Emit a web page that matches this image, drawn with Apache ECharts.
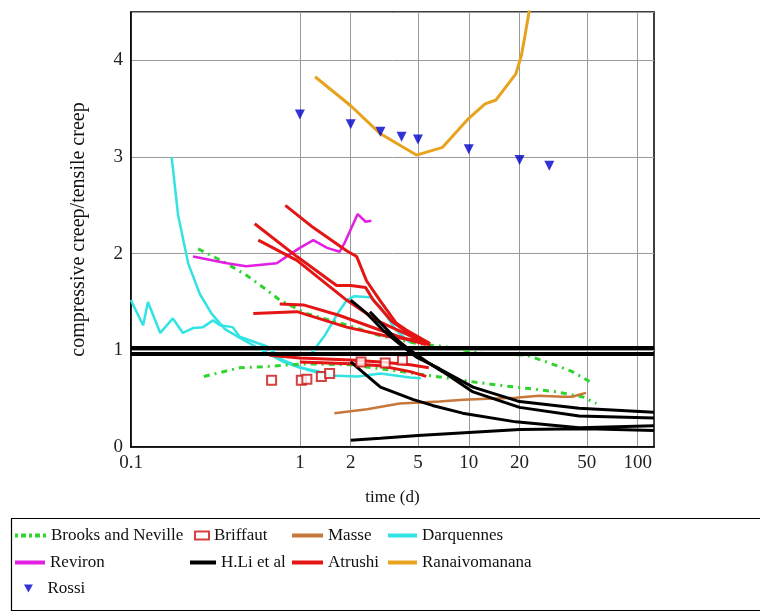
<!DOCTYPE html>
<html>
<head>
<meta charset="utf-8">
<script src="https://cdn.jsdelivr.net/npm/echarts@6/dist/echarts.min.js"></script>
<style>
  html, body { margin: 0; padding: 0; background: #fff; }
  #chart { width: 760px; height: 614px; }
</style>
</head>
<body>
<div id="chart"></div>
<script>
// Axis ticks
const xTicks = [0.1, 1, 2, 5, 10, 20, 50, 100];
const yTicks = [0, 1, 2, 3, 4];

// Brooks and Neville (two curves), [time (d), ratio]
const brooksUpper = [[0.25,2.05],[0.35,1.92],[0.48,1.78],[0.63,1.63],[0.76,1.52],[1.1,1.38],[2,1.25],[3,1.15],[5,1.07],[7,1.04],[12,0.97],[22,0.95],[30,0.87],[41,0.78],[54,0.66]];
const brooksLower = [[0.27,0.73],[0.44,0.82],[0.6,0.83],[0.87,0.85],[1.1,0.86],[2,0.85],[4,0.78],[7,0.72],[11,0.67],[16.7,0.63],[24,0.6],[33,0.57],[47,0.52],[57,0.45]];

// Briffaut (points)
const briffaut = [[0.68,0.69],[1.02,0.69],[1.1,0.70],[1.34,0.73],[1.5,0.76],[2.3,0.88],[3.2,0.87],[4.05,0.90]];

// Masse
const masse = [[1.6,0.35],[2.5,0.39],[3.9,0.45],[6.7,0.47],[9.3,0.49],[13,0.50],[19,0.51],[26,0.53],[36,0.52],[41,0.52],[45,0.54],[49.5,0.56]];

// Darquennes (three curves)
const darqA = [[0.1,1.52],[0.103,1.47],[0.118,1.26],[0.126,1.5],[0.149,1.18],[0.177,1.33],[0.203,1.18],[0.233,1.23],[0.267,1.24],[0.306,1.31],[0.336,1.26],[0.40,1.24],[0.44,1.14],[0.64,1.04],[0.79,0.9],[1.1,0.8],[1.5,0.74],[2.2,0.73],[3,0.76],[4.5,0.72],[5.2,0.71]];
const darqB = [[0.174,3.0],[0.19,2.4],[0.218,1.9],[0.256,1.58],[0.30,1.38],[0.36,1.22],[0.45,1.12],[0.6,1.0],[0.8,0.88],[1.0,0.82],[1.3,0.78],[1.5,0.74]];
const darqC = [[1.15,0.95],[1.4,1.15],[1.7,1.40],[1.9,1.52],[2.1,1.56],[2.6,1.55],[3.0,1.45],[3.7,1.21],[4.5,1.08]];

// Reviron
const reviron = [[0.233,1.97],[0.37,1.90],[0.48,1.87],[0.73,1.90],[0.85,1.98],[1.0,2.06],[1.2,2.14],[1.45,2.06],[1.72,2.02],[1.85,2.12],[2.2,2.41],[2.45,2.33],[2.65,2.34]];

// H.Li et al (four curves)
const hli1 = [[2,1.52],[2.5,1.38],[3.1,1.21],[4,1.05],[4.9,0.93],[6.7,0.81],[10.6,0.62],[20,0.47],[45,0.40],[125,0.36]];
const hli2 = [[2.6,1.40],[3.7,1.12],[4.5,1.0],[5.9,0.86],[7,0.78],[10.6,0.57],[20,0.41],[45,0.32],[125,0.30]];
const hli3 = [[2,0.88],[3,0.62],[4.7,0.49],[6.1,0.43],[9.2,0.35],[19,0.26],[45,0.20],[125,0.22]];
const hli4 = [[2,0.07],[3,0.09],[5,0.12],[10,0.15],[20,0.18],[50,0.19],[125,0.17]];

// Atrushi (seven curves)
const atr1 = [[0.82,2.5],[1.2,2.27],[1.89,2.03],[2.17,1.97],[2.48,1.72],[2.97,1.52],[3.73,1.28],[4.27,1.21],[5.9,1.07]];
const atr2 = [[0.54,2.31],[0.96,1.97],[1.65,1.67],[2.0,1.67],[2.45,1.65],[2.72,1.52],[3.5,1.30],[4.7,1.14],[5.9,1.05]];
const atr3 = [[0.567,2.14],[0.96,1.93],[1.89,1.52],[2.84,1.31],[4.9,1.12]];
const atr4 = [[0.76,1.48],[1.05,1.47],[1.72,1.36],[2.97,1.21],[4.2,1.12],[5.6,1.06]];
const atr5 = [[0.53,1.38],[0.96,1.40],[1.89,1.24],[3.4,1.14],[5.2,1.10]];
const atr6 = [[0.66,0.95],[1.0,0.92],[2,0.90],[3,0.88],[4.5,0.85],[5.8,0.82]];
const atr7 = [[1.0,0.88],[2,0.86],[3,0.84],[4.5,0.78],[5.6,0.73]];

// Ranaivomanana
const ranaivo = [[1.23,3.83],[2,3.53],[3,3.24],[4.9,3.02],[7,3.10],[10,3.40],[12.5,3.55],[14.5,3.59],[19,3.86],[20.5,4.05],[21.5,4.25],[23,4.55]];

// Rossi (points)
const rossi = [[1,3.44],[2,3.34],[3,3.26],[4,3.21],[5,3.18],[10,3.08],[20,2.97],[30,2.91]];

const SERIF = '"Liberation Serif", "DejaVu Serif", serif';
const C = {
  brooks: '#2fd42f',
  briffaut: '#cc1111',
  masse: '#c8773a',
  darq: '#33e3e3',
  reviron: '#e21ee2',
  hli: '#000000',
  atrushi: '#e41515',
  ranaivo: '#e8a31e',
  rossi: '#0000cc'
};
const BROOKS_DASH = [6, 5, 2, 5];

function lineSeries(name, data, color, width, extra) {
  return Object.assign({
    name: name,
    type: 'line',
    data: data,
    showSymbol: false,
    symbol: 'none',
    smooth: false,
    clip: true,
    lineStyle: { color: color, width: width },
    itemStyle: { color: color },
    emphasis: { disabled: true },
    animation: false
  }, extra || {});
}

const series = [
  lineSeries('Darquennes', darqA, C.darq, 2.5),
  lineSeries('Darquennes', darqB, C.darq, 2.5),
  lineSeries('Darquennes', darqC, C.darq, 2.5),
  lineSeries('Brooks and Neville', brooksUpper, C.brooks, 3, { lineStyle: { color: C.brooks, width: 3, type: BROOKS_DASH } }),
  lineSeries('Brooks and Neville', brooksLower, C.brooks, 3, { lineStyle: { color: C.brooks, width: 3, type: BROOKS_DASH } }),
  lineSeries('Reviron', reviron, C.reviron, 2.5),
  lineSeries('Masse', masse, C.masse, 2.5),
  lineSeries('Atrushi', atr1, C.atrushi, 3),
  lineSeries('Atrushi', atr2, C.atrushi, 3),
  lineSeries('Atrushi', atr3, C.atrushi, 3),
  lineSeries('Atrushi', atr4, C.atrushi, 3),
  lineSeries('Atrushi', atr5, C.atrushi, 3),
  lineSeries('Atrushi', atr6, C.atrushi, 3),
  lineSeries('Atrushi', atr7, C.atrushi, 3),
  lineSeries('H.Li et al', hli1, C.hli, 3),
  lineSeries('H.Li et al', hli2, C.hli, 3),
  lineSeries('H.Li et al', hli3, C.hli, 3),
  lineSeries('H.Li et al', hli4, C.hli, 3, {
    // double reference line at ratio = 1
    markLine: {
      silent: true,
      symbol: 'none',
      animation: false,
      label: { show: false },
      lineStyle: { color: '#000', width: 4, type: 'solid' },
      data: [{ yAxis: 1.035 }, { yAxis: 0.965 }]
    }
  }),
  {
    name: 'Briffaut', type: 'scatter', data: briffaut,
    symbol: 'emptyRect', symbolSize: 9,
    itemStyle: { color: C.briffaut, borderWidth: 1.5 },
    emphasis: { disabled: true }, animation: false, z: 4
  },
  lineSeries('Ranaivomanana', ranaivo, C.ranaivo, 3),
  {
    name: 'Rossi', type: 'scatter', data: rossi,
    symbol: 'triangle', symbolRotate: 180, symbolSize: 10,
    itemStyle: { color: C.rossi },
    emphasis: { disabled: true }, animation: false, z: 5
  }
];

// Legend icons
const ICON_BAR = 'rect';
const ICON_DASHDOT = 'path://M0,0h3v4h-3zM6,0h5v4h-5zM14,0h3v4h-3zM20,0h5v4h-5zM28,0h3v4h-3z';
const ICON_DOWN_TRI = 'path://M0,0L10,0L5,9Z';

// One legend block per entry, laid out in a 4-column grid
const legendText = { fontFamily: SERIF, fontSize: 17, color: '#111' };
function legendItem(name, left, top, w, h, icon, extra) {
  return Object.assign({
    data: [{ name: name, icon: icon }], left: left, top: top, itemWidth: w, itemHeight: h,
    itemGap: 0, padding: 0, textStyle: legendText, selectedMode: false
  }, extra || {});
}
const rowTop = [527, 554, 580];
const legends = [
  legendItem('Brooks and Neville', 15, rowTop[0], 31, 4, ICON_DASHDOT),
  legendItem('Briffaut', 194, rowTop[0], 14, 8, 'emptyRect'),
  legendItem('Masse', 292, rowTop[0], 31, 4, ICON_BAR),
  legendItem('Darquennes', 388, rowTop[0], 29, 4, ICON_BAR),
  legendItem('Reviron', 15, rowTop[1], 30, 4, ICON_BAR),
  legendItem('H.Li et al', 190, rowTop[1], 26, 4, ICON_BAR),
  legendItem('Atrushi', 292, rowTop[1], 31, 4, ICON_BAR),
  legendItem('Ranaivomanana', 388, rowTop[1], 29, 4, ICON_BAR),
  legendItem('Rossi', 24, rowTop[2], 12, 8, ICON_DOWN_TRI, {
    textStyle: Object.assign({}, legendText, { padding: [0, 0, 0, 8] })
  })
];

const chart = echarts.init(document.getElementById('chart'), null, { renderer: 'canvas' });
chart.setOption({
  backgroundColor: '#fff',
  animation: false,
  grid: {
    left: 131, top: 12, width: 523, height: 435,
    show: true, borderColor: '#000', borderWidth: 1.5, backgroundColor: 'transparent'
  },
  legend: legends,
  graphic: [{
    type: 'rect',
    shape: { x: 11.5, y: 518.5, width: 800, height: 92 },
    style: { fill: 'none', stroke: '#000', lineWidth: 1.2 },
    silent: true, z: -1
  }],
  xAxis: {
    type: 'log', logBase: 10, min: 0.1, max: 125,
    name: 'time (d)', nameLocation: 'middle', nameGap: 42,
    nameTextStyle: { fontFamily: SERIF, fontSize: 17, color: '#111' },
    axisLine: { lineStyle: { color: '#000', width: 1.5 } },
    axisTick: { show: false, customValues: xTicks },
    axisLabel: {
      customValues: xTicks, margin: 7,
      fontFamily: SERIF, fontSize: 19, color: '#222',
      formatter: v => String(Math.round(v * 10) / 10)
    },
    splitLine: { show: true, lineStyle: { color: '#9a9a9a', width: 1 } },
    minorSplitLine: { show: false }
  },
  yAxis: {
    type: 'value', min: 0, max: 4.5, interval: 1,
    name: 'compressive creep/tensile creep', nameLocation: 'middle', nameGap: 42,
    nameTextStyle: { fontFamily: SERIF, fontSize: 20, color: '#111' },
    axisLine: { show: true, lineStyle: { color: '#000', width: 1.5 } },
    axisTick: { show: false },
    axisLabel: {
      margin: 8, fontFamily: SERIF, fontSize: 19, color: '#222',
      formatter: v => (yTicks.indexOf(v) >= 0 ? String(v) : '')
    },
    splitLine: { show: true, lineStyle: { color: '#9a9a9a', width: 1 } }
  },
  series: series
});
</script>
</body>
</html>
